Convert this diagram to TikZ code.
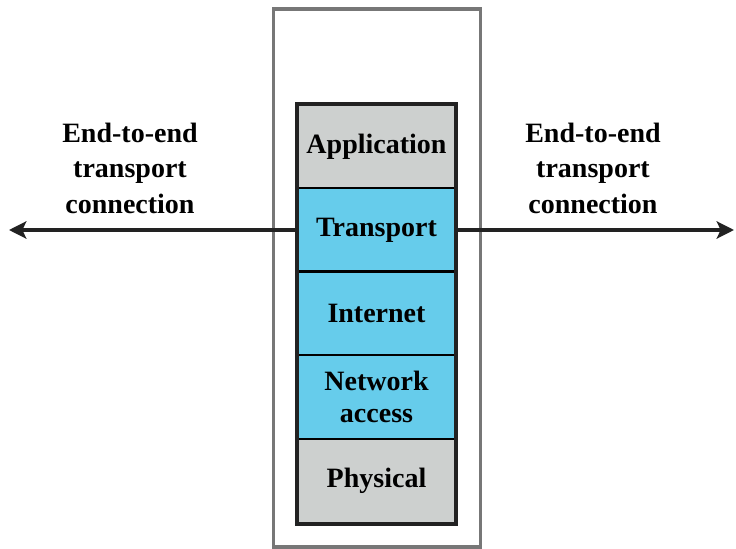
\documentclass[tikz,border=0pt]{standalone}
\usepackage{fontspec}
\setmainfont{Liberation Serif}
\usetikzlibrary{arrows.meta}
\definecolor{laygray}{HTML}{CDD0CF}
\definecolor{layblue}{HTML}{66CCEB}
\definecolor{outergray}{HTML}{777777}
\definecolor{stackedge}{HTML}{222222}
\begin{document}
\begin{tikzpicture}[x=0.75pt,y=-0.75pt,
  txt/.style={font=\fontsize{21}{26.6}\selectfont\bfseries, align=center, text=black},
  layer/.style={txt, draw=black, line width=1.5pt, minimum width=117.75pt, inner sep=0pt},
  grayl/.style={layer, fill=laygray},
  bluel/.style={layer, fill=layblue},
  conn/.style={line width=2.4pt, draw=stackedge, -{Stealth[length=13pt,width=13pt,inset=3pt]}}
]
\useasboundingbox (0,0) rectangle (736,549);
\node[draw=outergray, line width=2.4pt, minimum width=155.25pt, minimum height=403.5pt, inner sep=0pt] (outer) at (377,278) {};
\node[grayl, minimum height=63pt] (app) at (376.5,147) {Application};
\node[bluel, minimum height=62.25pt] (trans) at (376.5,230) {Transport};
\node[bluel, minimum height=62.25pt] (inet) at (376.5,313.5) {Internet};
\node[bluel, minimum height=63pt] (net) at (376.5,397) {Network\\[-3pt]access};
\node[grayl, minimum height=63pt] (phys) at (376.5,481) {Physical};
\draw[draw=stackedge, line width=2.4pt] (app.north west) rectangle (phys.south east);
\coordinate (ltip) at (9,230);
\coordinate (rtip) at (734,230);
\draw[conn] (trans.west) -- (trans.west -| ltip);
\draw[conn] (trans.east) -- (trans.east -| rtip);
\node[txt] (llab) at (130,168) {End-to-end\\transport\\connection};
\node[txt] (rlab) at (593,168) {End-to-end\\transport\\connection};
\end{tikzpicture}
\end{document}
